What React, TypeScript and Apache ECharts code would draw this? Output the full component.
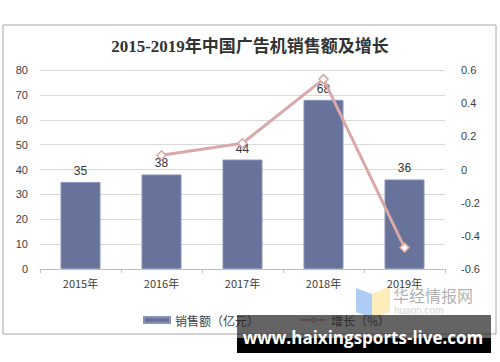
import React, { useEffect, useRef } from "react";
import * as echarts from "echarts";

const categories = ["2015年", "2016年", "2017年", "2018年", "2019年"];
const sales = [35, 38, 44, 68, 36];
const growth: (number | null)[] = [null, 0.086, 0.158, 0.545, -0.471];
const leftTicks = { min: 0, max: 80, interval: 10 };
const rightTicks = { min: -0.6, max: 0.6, interval: 0.2 };

export default function App() {
  const ref = useRef<HTMLDivElement>(null);
  useEffect(() => {
    const chart = echarts.init(ref.current!, null, { renderer: "svg" });
    chart.setOption({
      animation: false,
      backgroundColor: "#ffffff",
      title: {
        text: "2015-2019年中国广告机销售额及增长",
        left: "center",
        top: 33,
        textStyle: {
          fontFamily: "'Liberation Serif', 'Noto Sans CJK SC', serif",
          fontSize: 17,
          fontWeight: "bold",
          color: "#333333",
        },
      },
      grid: { left: 40, right: 55, top: 70, bottom: 93 },
      legend: {
        top: 309,
        left: 138,
        itemGap: 40,
        itemWidth: 26,
        itemHeight: 6,
        textStyle: { fontSize: 12, color: "#404040", fontFamily: "'Noto Sans CJK SC', sans-serif" },
        data: [
          { name: "销售额（亿元）", icon: "rect" },
          { name: "增长（%）" },
        ],
      },
      xAxis: {
        type: "category",
        data: categories,
        axisLine: { lineStyle: { color: "#bfbfbf" } },
        axisTick: { show: true, length: 4, lineStyle: { color: "#bfbfbf" } },
        axisLabel: { color: "#404040", fontSize: 11, margin: 8, fontFamily: "'Noto Sans CJK SC', sans-serif" },
      },
      yAxis: [
        {
          type: "value",
          min: leftTicks.min,
          max: leftTicks.max,
          interval: leftTicks.interval,
          axisLine: { show: false },
          axisTick: { show: false },
          axisLabel: { color: "#404040", fontSize: 11, margin: 12, fontFamily: "Arial, 'Liberation Sans', sans-serif" },
          splitLine: { lineStyle: { color: "#d9d9d9", width: 1 } },
        },
        {
          type: "value",
          min: rightTicks.min,
          max: rightTicks.max,
          interval: rightTicks.interval,
          axisLine: { show: false },
          axisTick: { show: false },
          splitLine: { show: false },
          axisLabel: {
            color: "#404040",
            fontSize: 11,
            margin: 16,
            fontFamily: "Arial, 'Liberation Sans', sans-serif",
            formatter: (v: number) => {
              const r = Math.round(v * 10) / 10;
              return r === 0 ? "0" : String(r);
            },
          },
        },
      ],
      series: [
        {
          name: "销售额（亿元）",
          type: "bar",
          data: sales,
          barWidth: 40,
          itemStyle: { color: "#67739b", borderColor: "#8a94b6", borderWidth: 1 },
          label: { show: true, position: "top", color: "#333333", fontSize: 12, distance: 5 },
        },
        {
          name: "增长（%）",
          type: "line",
          yAxisIndex: 1,
          data: growth,
          symbol: "diamond",
          symbolSize: 9,
          lineStyle: { color: "#d9a8a8", width: 3 },
          itemStyle: { color: "#ffffff", borderColor: "#d9a8a8", borderWidth: 1.5 },
        },
      ],
      graphic: [
        {
          type: "rect",
          shape: { x: 3, y: 25, width: 493, height: 309 },
          style: { fill: "none", stroke: "#a6a6a6", lineWidth: 1 },
          silent: true,
          z: -1,
        },
        {
          type: "polygon",
          shape: { points: [[356, 288], [372, 294], [372, 318], [356, 312]] },
          style: { fill: "rgba(120,170,240,0.6)" },
          silent: true,
        },
        {
          type: "polygon",
          shape: { points: [[372, 294], [390, 286], [390, 312], [372, 318]] },
          style: { fill: "rgba(250,225,140,0.6)" },
          silent: true,
        },
        {
          type: "text",
          x: 393,
          y: 287,
          style: { text: "华经情报网", fill: "rgba(150,150,150,0.75)", fontSize: 16, fontFamily: "'Noto Sans CJK SC', sans-serif" },
          silent: true,
        },
        {
          type: "text",
          x: 394,
          y: 305,
          style: { text: "huaon.com", fill: "rgba(190,190,190,0.7)", fontSize: 10, fontFamily: "sans-serif" },
          silent: true,
        },
        {
          type: "rect",
          shape: { x: 237, y: 315, width: 254, height: 23 },
          style: { fill: "rgba(40,40,40,0.72)" },
          silent: true,
          z: 100,
        },
        {
          type: "rect",
          shape: { x: 237, y: 338, width: 254, height: 15 },
          style: { fill: "#000000" },
          silent: true,
          z: 100,
        },
        {
          type: "text",
          x: 363,
          y: 337,
          style: {
            text: "www.haixingsports-live.com",
            fill: "#ffffff",
            fontSize: 17,
            fontWeight: "bold",
            fontFamily: "'Open Sans', 'DejaVu Sans', sans-serif",
            textAlign: "center",
            textVerticalAlign: "middle",
          },
          silent: true,
          z: 101,
        },
      ],
    });
    return () => chart.dispose();
  }, []);
  return <div ref={ref} style={{ position: "fixed", left: 0, top: 0, width: 500, height: 362 }} />;
}
